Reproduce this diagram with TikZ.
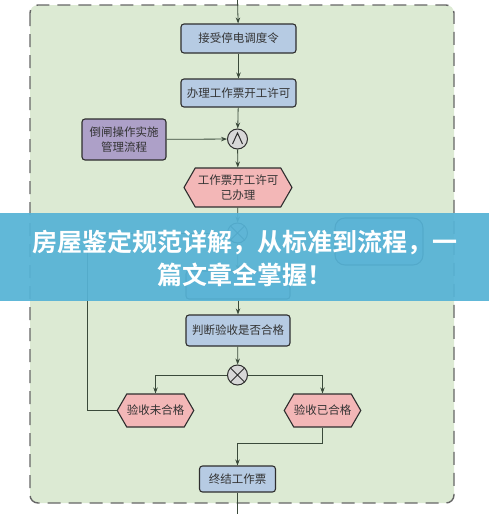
\documentclass[tikz,border=0pt]{standalone}
\usepackage{fontspec}
\setmainfont{Noto Sans CJK SC}
\newfontfamily\bannerfont{Noto Sans CJK SC}[BoldFont={Noto Sans CJK SC Bold}]
\usetikzlibrary{arrows.meta,shapes.symbols,calc}
\definecolor{panelfill}{HTML}{DCEAD3}
\definecolor{panelline}{HTML}{666666}
\definecolor{bluefill}{HTML}{B6CBE3}
\definecolor{purplefill}{HTML}{ADA0C8}
\definecolor{pinkfill}{HTML}{F3B7B7}
\definecolor{greyfill}{HTML}{D8D8D8}
\definecolor{edgeline}{HTML}{2E2E2E}
\definecolor{flowline}{HTML}{3A4A3A}
\definecolor{bannerblue}{HTML}{56B3D6}
\definecolor{txt}{HTML}{333333}
\tikzset{
  bluebox/.style={draw=edgeline, line width=1.1pt, fill=bluefill, rounded corners=3pt,
    inner sep=0pt, font=\fontsize{11.5}{14}\selectfont, text=txt, align=center},
  purplebox/.style={draw=edgeline, line width=1.1pt, fill=purplefill, rounded corners=3pt,
    inner sep=0pt, font=\fontsize{11.5}{15}\selectfont, text=txt, align=center},
  hexbox/.style={shape=signal, signal to=west and east, signal pointer angle=120,
    draw=edgeline, line width=1.1pt, fill=pinkfill, inner sep=0pt,
    font=\fontsize{11.5}{15}\selectfont, text=txt, align=center},
  gate/.style={circle, draw=edgeline, line width=1pt, fill=greyfill, minimum size=20pt, inner sep=0pt},
  sidebox/.style={draw=edgeline, line width=1.1pt, fill=bluefill, rounded corners=10pt,
    inner sep=0pt, minimum width=88pt, minimum height=47pt},
  flow/.style={draw=flowline, line width=0.8pt, -{Stealth[length=6pt,width=4.5pt]}},
  plainflow/.style={draw=flowline, line width=0.8pt},
}
\begin{document}
\begin{tikzpicture}[x=1pt,y=-1pt]
\useasboundingbox (0,0) rectangle (489,514);
\fill[white] (0,0) rectangle (489,514);
% panel
\draw[panelline, line width=1.4pt, dash pattern=on 13pt off 8pt, fill=panelfill, rounded corners=8pt]
  (30,5) rectangle (454,503);
% nodes
\coordinate (topin) at (237.5,0);
\coordinate (botout) at (237.5,514);
\node[bluebox, minimum width=115pt, minimum height=29pt] (b1) at (238.5,38.5) {接受停电调度令};
\node[bluebox, minimum width=115pt, minimum height=28pt] (b2) at (238.5,93) {办理工作票开工许可};
\node[gate] (and1) at (237.5,139) {};
\draw[edgeline, line width=1pt] ($(and1)+(-5,5)$) -- ($(and1)+(0,-6)$) -- ($(and1)+(5,5)$);
\node[purplebox, minimum width=84pt, minimum height=41pt] (p1) at (124,139.5) {倒闸操作实施\\管理流程};
\node[hexbox, minimum width=108pt, minimum height=39pt] (h1) at (238,187.5) {工作票开工许可\\已办理};
\node[gate] (xor1) at (237.5,233) {};
\draw[edgeline, line width=1pt] ($(xor1)+(-7,-7)$) -- ($(xor1)+(7,7)$) ($(xor1)+(-7,7)$) -- ($(xor1)+(7,-7)$);
\node[sidebox] (s1) at (379,241.5) {};
\node[bluebox, minimum width=104pt, minimum height=28pt] (b5) at (238,285) {};
\node[bluebox, minimum width=104pt, minimum height=31pt] (b6) at (238,330.5) {判断验收是否合格};
\node[gate] (xor2) at (237.5,375) {};
\draw[edgeline, line width=1pt] ($(xor2)+(-7,-7)$) -- ($(xor2)+(7,7)$) ($(xor2)+(-7,7)$) -- ($(xor2)+(7,-7)$);
\node[hexbox, minimum width=75pt, minimum height=33pt] (hn) at (155.5,410.5) {验收未合格};
\node[hexbox, minimum width=75pt, minimum height=33pt] (hy) at (322.5,410.5) {验收已合格};
\node[bluebox, minimum width=76pt, minimum height=26pt] (b7) at (237.5,479) {终结工作票};
\coordinate (loopx) at (87.5,0);
\coordinate (joinx) at (0,443);
% connectors
\draw[flow] (topin) -- (b1);
\draw[flow] (b1) -- (b2);
\draw[flow] (b2) -- (and1);
\draw[flow] (p1) -- (and1);
\draw[flow] (and1) -- (h1);
\draw[flow] (h1) -- (xor1);
\draw[flow] (xor1) -- (b5);
\draw[flow] (b5) -- (b6);
\draw[flow] (b6) -- (xor2);
\draw[flow] (xor2.west) -| (hn.north);
\draw[flow] (xor2.east) -| (hy.north);
\draw[plainflow] (hn.west) -| (loopx |- xor1) -- (xor1.west);
\draw[flow] (hy.south) |- (joinx -| b7) -- (b7.north);
\draw[plainflow] (b7) -- (botout);
% banner
\fill[bannerblue, opacity=0.93] (0,213) rectangle (489,301);
\node[text=white, font=\bannerfont\bfseries\fontsize{25}{33}\selectfont, align=center, inner sep=0pt]
  (banner) at (245,258) {房屋鉴定规范详解，从标准到流程，一\\篇文章全掌握！};
\end{tikzpicture}
\end{document}
